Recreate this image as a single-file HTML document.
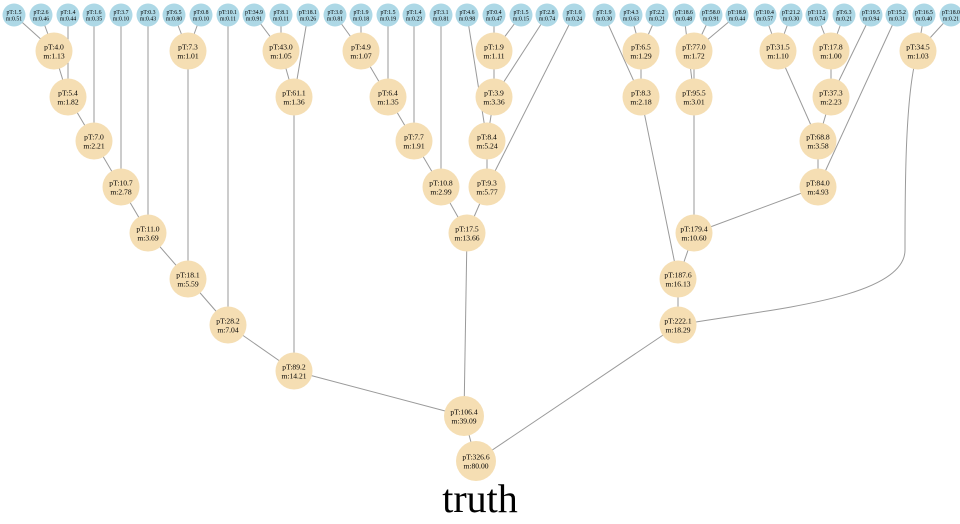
<!DOCTYPE html>
<html><head><meta charset="utf-8"><style>
html,body{margin:0;padding:0;background:#fff;}
svg{display:block;}
text{font-family:"Liberation Serif",serif;}
</style></head><body>
<svg id="tree" width="960" height="524" viewBox="0 0 960 524" xmlns="http://www.w3.org/2000/svg">
<text x="480" y="512" text-anchor="middle" font-size="40" fill="#000">truth</text>
</svg>
<script>
const nodeIds = ["l0","l1","l2","l3","l4","l5","l6","l7","l8","l9","l10","l11","l12","l13","l14","l15","l16","l17","l18","l19","l20","l21","l22","l23","l24","l25","l26","l27","l28","l29","l30","l31","l32","l33","l34","l35",
"A","B","C","D","E","F","G","H","I","J","K","L","M","N","O","P","Q","R","S","T","U","V","W","X","Y","Z","AA","AB","AC","AD","AE","AF","AG","AH","root"];
const pTValues = ["1.5","2.6","1.4","1.6","3.7","0.3","6.5","0.8","10.1","34.9","8.1","18.1","3.0","1.9","1.5","1.4","3.1","4.6","0.4","1.5","2.8","1.0","1.9","4.3","2.2","18.6","58.0","18.9","10.4","21.2","11.5","6.3","19.5","15.2","16.5","18.0",
"4.0","5.4","7.0","10.7","11.0","7.3","18.1","28.2","43.0","61.1","89.2","4.9","6.4","7.7","10.8","1.9","3.9","8.4","9.3","17.5","106.4","6.5","8.3","77.0","95.5","31.5","17.8","37.3","68.8","84.0","179.4","187.6","34.5","222.1","326.6"];
const massValues = ["0.51","0.46","0.44","0.35","0.10","0.43","0.80","0.10","0.11","0.91","0.11","0.26","0.81","0.18","0.19","0.23","0.81","0.98","0.47","0.15","0.74","0.24","0.30","0.63","0.21","0.48","0.91","0.44","0.57","0.30","0.74","0.21","0.94","0.31","0.40","0.21",
"1.13","1.82","2.21","2.78","3.69","1.01","5.59","7.04","1.05","1.36","14.21","1.07","1.35","1.91","2.99","1.11","3.36","5.24","5.77","13.66","39.09","1.29","2.18","1.72","3.01","1.10","1.00","2.23","3.58","4.93","10.60","16.13","1.03","18.29","80.00"];
const edgeParents = ["A","A","B","B","C","C","D","D","E","E","F","F","G","G","H","H","I","I","J","J","K","K","L","L","M","M","N","N","O","O","P","P","Q","Q","R","R","S","S","T","T","U","U","V","V","W","W","X","X","Y","Y","Z","Z","AA","AA","AB","AB","AC","AC","AD","AD","AE","AE","AF","AF","AG","AG","AH","AH","root","root"];
const edgeChildren = ["l0","l1","A","l2","B","l3","C","l4","D","l5","l6","l7","E","F","G","l8","l9","l10","I","l11","H","J","l12","l13","L","l14","M","l15","N","l16","l18","l19","P","l20","l17","Q","R","l21","O","S","K","T","l23","l24","l22","V","l26","l27","l25","X","l28","l29","l30","l31","AA","l32","Z","AB","AC","l33","Y","AD","W","AE","l34","l35","AF","AG","U","AH"];

const leafX = [14,41,68,94,121,148,174,201,228,254,281,308,335,361,388,414,441,467,494,521,547,574,604,631,657,684,711,737,765,791,817,844,871,897,924,951];
const innerPos = {A:[54,51],B:[68,97],C:[94,141],D:[121,187],E:[148,233],F:[188,51],G:[188,279],H:[228,325],I:[281,51],J:[294,97],K:[294,371],
L:[361,51],M:[388,97],N:[414,141],O:[441,187],P:[494,51],Q:[494,97],R:[487,141],S:[487,187],T:[467,233],U:[464,416],
V:[641,51],W:[641,97],X:[694,51],Y:[694,97],Z:[778,51],AA:[831,51],AB:[831,97],AC:[818,141],AD:[818,187],AE:[694,233],AF:[678,279],AG:[918,51],AH:[678,325],root:[476,461]};
const NS="http://www.w3.org/2000/svg";
const svg=document.getElementById('tree');
const pos={};
nodeIds.forEach((id,i)=>{ pos[id]= i<36 ? [leafX[i],15] : innerPos[id]; });
const title=svg.firstElementChild;
const gE=document.createElementNS(NS,'g');


svg.insertBefore(gE,title);
edgeParents.forEach((p,i)=>{
  const c=edgeChildren[i];
  const [x1,y1]=pos[p],[x2,y2]=pos[c];
  const path=document.createElementNS(NS,'path');
  let d;
  if(p==='AH'&&c==='AG'){ d=`M${x2},${y2} C905,90 905,190 905,250 C905,300 760,310 ${x1},${y1}`; }
  else d=`M${x1},${y1} L${x2},${y2}`;
  path.setAttribute('d',d);
  path.setAttribute('fill','none');
  path.setAttribute('stroke','#9a9a9a');
  path.setAttribute('stroke-width','1');
  
  
  gE.appendChild(path);
});
nodeIds.forEach((id,i)=>{
  const leaf=i<36;
  const [x,y]=pos[id];
  const g=document.createElementNS(NS,'g');
  
  
  const c=document.createElementNS(NS,'circle');
  c.setAttribute('cx',x);c.setAttribute('cy',y);c.setAttribute('r',leaf?11.5:(id==='root'||id==='U'?20:18.5));
  c.setAttribute('fill',leaf?'#add8e6':'#f5deb3');
  g.appendChild(c);
  const fs=leaf?5.8:7.6;
  const t1=document.createElementNS(NS,'text');
  t1.setAttribute('x',x);t1.setAttribute('y',y-(leaf?1:1.5));
  t1.setAttribute('text-anchor','middle');t1.setAttribute('font-size',fs);
  t1.textContent='pT:'+pTValues[i];
  const t2=document.createElementNS(NS,'text');
  t2.setAttribute('x',x);t2.setAttribute('y',y+(leaf?5.5:7.5));
  t2.setAttribute('text-anchor','middle');t2.setAttribute('font-size',fs);
  t2.textContent='m:'+massValues[i];
  g.appendChild(t1);g.appendChild(t2);
  svg.insertBefore(g,title);
});
</script>
</body></html>
